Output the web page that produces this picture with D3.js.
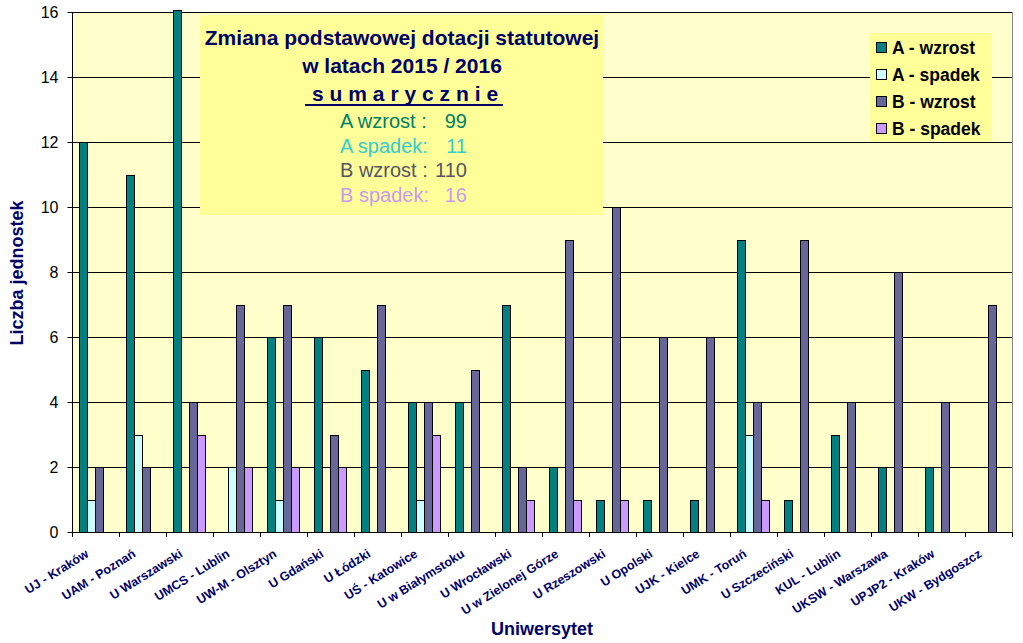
<!DOCTYPE html>
<html>
<head>
<meta charset="utf-8">
<script src="https://cdn.jsdelivr.net/npm/d3@7"></script>
<style>
  body { margin: 0; background: #fff; }
  svg { display: block; font-family: Arial, "Liberation Sans", sans-serif; }
</style>
</head>
<body>
<svg width="1023" height="643"></svg>
<script>
var categories = ["UJ - Kraków", "UAM - Poznań", "U Warszawski", "UMCS - Lublin", "UW-M - Olsztyn",
  "U Gdański", "U Łódzki", "UŚ - Katowice", "U w Białymstoku", "U Wrocławski",
  "U w Zielonej Górze", "U Rzeszowski", "U Opolski", "UJK - Kielce", "UMK - Toruń",
  "U Szczeciński", "KUL - Lublin", "UKSW - Warszawa", "UPJP2 - Kraków", "UKW - Bydgoszcz"]

var seriesNames = ["A - wzrost", "A - spadek", "B - wzrost", "B - spadek"]
var seriesColors = ["#008080", "#ccffff", "#666699", "#cc99ff"]

// U Warszawski runs off the top of the axis (summary says 99 in total)
var aWzrost = [12, 11, 22, 0, 6, 6, 5, 4, 4, 7, 2, 1, 1, 1, 9, 1, 3, 2, 2, 0]
var aSpadek = [1, 3, 0, 2, 1, 0, 0, 1, 0, 0, 0, 0, 0, 0, 3, 0, 0, 0, 0, 0]
var bWzrost = [2, 2, 4, 7, 7, 3, 7, 4, 5, 2, 9, 10, 6, 6, 4, 9, 4, 8, 4, 7]
var bSpadek = [0, 0, 3, 2, 2, 2, 0, 3, 0, 1, 1, 1, 0, 0, 1, 0, 0, 0, 0, 0]

var summaryLabels = ["A wzrost :", "A spadek:", "B wzrost :", "B spadek:"]
var summaryColors = ["#008066", "#33cccc", "#555566", "#cc99ee"]

var yTicks = [0, 2, 4, 6, 8, 10, 12, 14, 16]

var seriesValues = [aWzrost, aSpadek, bWzrost, bSpadek]
var summaryValues = seriesValues.map(function (s) { return d3.sum(s) })

var navy = "#000066"
var svg = d3.select("svg")

var pl = 72, pr = 1012, pt = 12, pb = 532

var x0 = d3.scaleBand().domain(categories).range([pl, pr])
var x1 = d3.scaleBand().domain(d3.range(4)).range([7, 39])
var y = d3.scaleLinear().domain([0, 16]).range([pb, pt]).clamp(true)

// plot background
svg.append("rect")
  .attr("x", pl).attr("y", pt)
  .attr("width", pr - pl).attr("height", pb - pt)
  .attr("fill", "#ffffcc")

// gridlines
svg.append("g")
  .selectAll("line")
  .data(yTicks.filter(function (d) { return d > 0 }))
  .enter().append("line")
  .attr("x1", pl).attr("x2", pr)
  .attr("y1", function (d) { return Math.round(y(d)) + 0.5 })
  .attr("y2", function (d) { return Math.round(y(d)) + 0.5 })
  .attr("stroke", "#000")
  .attr("stroke-width", 1)

svg.append("line")
  .attr("x1", pr + 0.5).attr("x2", pr + 0.5)
  .attr("y1", pt).attr("y2", pb)
  .attr("stroke", "#888")

// bars
var groups = svg.append("g")
  .selectAll("g")
  .data(categories)
  .enter().append("g")
  .attr("transform", function (d) { return "translate(" + Math.round(x0(d)) + ",0)" })

groups.selectAll("rect")
  .data(function (d, i) {
    return seriesValues.map(function (s, k) { return { k: k, v: s[i] } })
  })
  .enter().append("rect")
  .filter(function (d) { return d.v > 0 })
  .attr("x", function (d) { return x1(d.k) + 0.5 })
  .attr("y", function (d) { return Math.round(y(d.v)) + 0.5 - (d.v > 16 ? 2 : 0) })
  .attr("width", x1.bandwidth())
  .attr("height", function (d) { return pb - Math.round(y(d.v)) + (d.v > 16 ? 2 : 0) })
  .attr("fill", function (d) { return seriesColors[d.k] })
  .attr("stroke", "#000")
  .attr("stroke-width", 1)

// y axis
var yAxis = svg.append("g")
  .attr("transform", "translate(" + (pl + 0.5) + ",0)")
  .call(d3.axisLeft(y).tickValues(yTicks).tickSize(5).tickPadding(9))
yAxis.select(".domain").attr("stroke", "#000").attr("d", "M0," + pt + "V" + pb)
yAxis.selectAll("text").attr("font-size", 16).attr("fill", "#000").attr("font-family", "Arial, 'Liberation Sans'")

// x axis
svg.append("line")
  .attr("x1", pl).attr("x2", pr)
  .attr("y1", pb + 0.5).attr("y2", pb + 0.5)
  .attr("stroke", "#000")

svg.append("g")
  .selectAll("line")
  .data(d3.range(categories.length + 1))
  .enter().append("line")
  .attr("x1", function (i) { return Math.round(pl + i * x0.step()) + 0.5 })
  .attr("x2", function (i) { return Math.round(pl + i * x0.step()) + 0.5 })
  .attr("y1", pb).attr("y2", pb + 5)
  .attr("stroke", "#000")

svg.append("g")
  .selectAll("text")
  .data(categories)
  .enter().append("text")
  .attr("transform", function (d) {
    return "translate(" + (x0(d) + x0.bandwidth() / 2 - 6) + "," + (pb + 24) + ") rotate(-32)"
  })
  .attr("text-anchor", "end")
  .attr("font-size", 12.5)
  .attr("font-weight", "bold")
  .attr("fill", navy)
  .text(function (d) { return d })

// axis titles
svg.append("text")
  .attr("x", 542).attr("y", 635)
  .attr("text-anchor", "middle")
  .attr("font-size", 18).attr("font-weight", "bold")
  .attr("fill", navy)
  .text("Uniwersytet")

svg.append("text")
  .attr("transform", "translate(23,273) rotate(-90)")
  .attr("text-anchor", "middle")
  .attr("font-size", 18).attr("font-weight", "bold")
  .attr("fill", navy)
  .text("Liczba jednostek")

// title box
var tb = svg.append("g")
tb.append("rect")
  .attr("x", 200).attr("y", 15)
  .attr("width", 403).attr("height", 200)
  .attr("fill", "#ffff99")

tb.append("text")
  .attr("x", 402).attr("y", 45)
  .attr("text-anchor", "middle")
  .attr("font-size", 21).attr("font-weight", "bold").attr("fill", navy)
  .text("Zmiana podstawowej dotacji statutowej")

tb.append("text")
  .attr("x", 402).attr("y", 73)
  .attr("text-anchor", "middle")
  .attr("font-size", 21).attr("font-weight", "bold").attr("fill", navy)
  .text("w latach 2015 / 2016")

tb.append("text")
  .attr("x", 408).attr("y", 101)
  .attr("text-anchor", "middle")
  .attr("font-size", 21).attr("font-weight", "bold").attr("fill", navy)
  .attr("letter-spacing", "5.9px")
  .text("sumarycznie")

tb.append("line")
  .attr("x1", 305).attr("x2", 503)
  .attr("y1", 105).attr("y2", 105)
  .attr("stroke", navy).attr("stroke-width", 2)

var rows = tb.selectAll(".sum")
  .data(summaryLabels)
  .enter().append("g")
  .attr("class", "sum")
  .attr("transform", function (d, i) { return "translate(0," + (128 + i * 24.7) + ")" })

rows.append("text")
  .attr("x", 340)
  .attr("font-size", 20)
  .attr("fill", function (d, i) { return summaryColors[i] })
  .text(function (d) { return d })

rows.append("text")
  .attr("x", 467)
  .attr("text-anchor", "end")
  .attr("font-size", 20)
  .attr("fill", function (d, i) { return summaryColors[i] })
  .text(function (d, i) { return summaryValues[i] })

// legend
var lg = svg.append("g")
lg.append("rect")
  .attr("x", 870).attr("y", 33)
  .attr("width", 122).attr("height", 108)
  .attr("fill", "#ffff99")

var items = lg.selectAll(".item")
  .data(seriesNames)
  .enter().append("g")
  .attr("class", "item")
  .attr("transform", function (d, i) { return "translate(0," + (48 + i * 27) + ")" })

items.append("rect")
  .attr("x", 876.5).attr("y", -5.5)
  .attr("width", 10).attr("height", 10)
  .attr("fill", function (d, i) { return seriesColors[i] })
  .attr("stroke", "#000")

items.append("text")
  .attr("x", 892).attr("y", 6)
  .attr("font-size", 17.5).attr("font-weight", "bold").attr("fill", "#000")
  .text(function (d) { return d })
</script>
</body>
</html>
